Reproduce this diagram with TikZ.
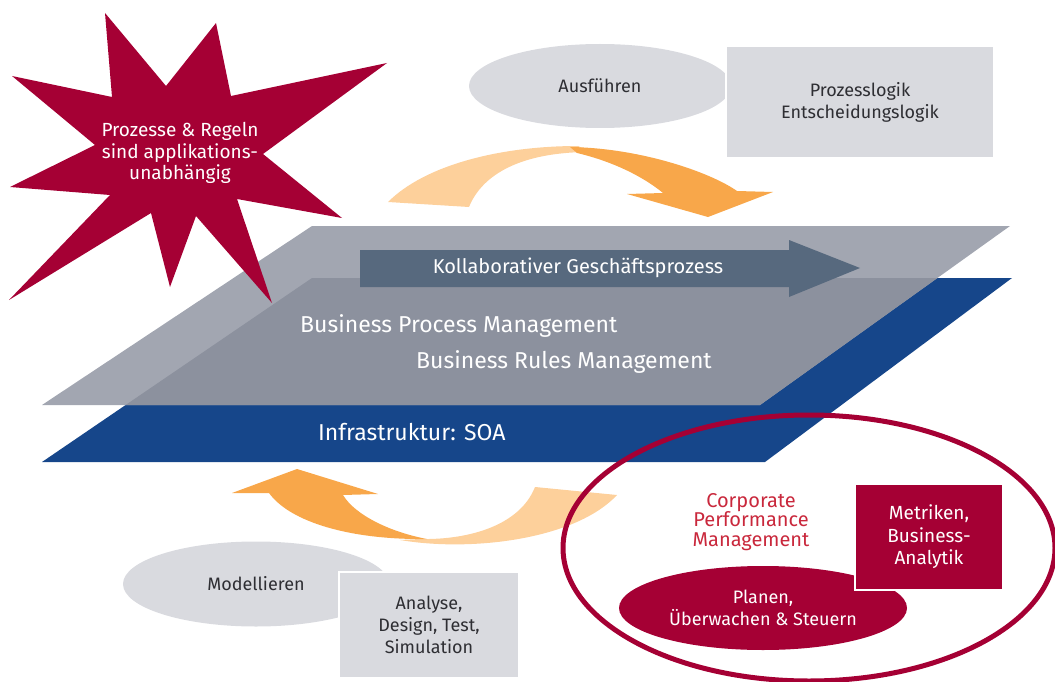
\documentclass[tikz,border=0pt]{standalone}
\usepackage{fontspec}
\setmainfont{Fira Sans}
\usetikzlibrary{shapes.geometric}

\definecolor{crimson}{HTML}{A50034}
\definecolor{cpmred}{HTML}{C9283C}
\definecolor{slate}{HTML}{57697E}
\definecolor{planegray}{HTML}{A2A6B1}
\definecolor{overlapgray}{HTML}{8C919E}
\definecolor{soablue}{HTML}{16468A}
\definecolor{boxgray}{HTML}{D9DADF}
\definecolor{textgray}{HTML}{2E2E33}
\definecolor{lightorange}{HTML}{FDD09B}
\definecolor{darkorange}{HTML}{F8A74A}

\begin{document}
\begin{tikzpicture}[x=1pt,y=-1pt,
    every node/.style={align=center,font=\fontsize{18}{22}\selectfont},
    oval node/.style={ellipse,fill=boxgray,text=textgray,inner sep=0pt},
    box node/.style={rectangle,fill=boxgray,draw=white,line width=1.5pt,text=textgray},
    red node/.style={fill=crimson,text=white},
    plane text/.style={anchor=west,inner sep=0pt,text=white,font=\fontsize{23}{27}\selectfont}]

  \useasboundingbox (0,0) rectangle (1055,682);

  % the two layers
  \fill[soablue] (312,278) -- (1012,278) -- (765,462) -- (42,462) -- cycle;
  \fill[planegray] (312,226) -- (1010,226) -- (760,405) -- (42,405) -- cycle;
  \begin{scope}
    \clip (312,278) -- (1012,278) -- (765,462) -- (42,462) -- cycle;
    \fill[overlapgray] (312,226) -- (1010,226) -- (760,405) -- (42,405) -- cycle;
  \end{scope}

  \fill[slate] (360,250) -- (789,250) -- (789,240) -- (860,268) -- (789,297)
    -- (789,287) -- (360,287) -- cycle;
  \node[text=white,inner sep=0pt,font=\fontsize{20}{24}\selectfont] (collab) at (578,268) {Kollaborativer Geschäftsprozess};

  \node[plane text] (bpm) at (300,326) {Business Process Management};
  \node[plane text] (brm) at (416,362) {Business Rules Management};
  \node[plane text] (soa) at (318,432) {Infrastruktur: SOA};

  % upper cycle arrow
  \fill[lightorange] (388,202) .. controls (425,165) and (500,146) .. (578,146)
    -- (590,152) .. controls (520,152) and (482,175) .. (469,207) -- cycle;
  \fill[darkorange] (570,147) .. controls (640,148) and (710,172) .. (737,191)
    -- (773,192) -- (708,217) -- (627,194) -- (663,193)
    .. controls (645,178) and (615,162) .. (577,153) -- cycle;

  % lower cycle arrow
  \fill[lightorange] (400,540) .. controls (470,552) and (575,540) .. (617,495)
    -- (535,487) .. controls (520,525) and (470,540) .. (420,539) -- cycle;
  \fill[darkorange] (427,539) .. controls (350,540) and (290,522) .. (269,493)
    -- (232,493) -- (297,469) -- (378,494) -- (343,495)
    .. controls (355,515) and (390,532) .. (427,539) -- cycle;

  % execute
  \node[oval node,minimum width=262pt,minimum height=84pt] (exec) at (600,86) {Ausführen};
  \node[box node,minimum width=268pt,minimum height=111pt] (logic) at (860,102) {Prozesslogik\\Entscheidungslogik};

  % model
  \node[oval node,minimum width=266pt,minimum height=85pt] (model) at (256,584) {Modellieren};
  \node[box node,minimum width=180pt,minimum height=106pt] (design) at (429,625) {Analyse,\\Design, Test,\\Simulation};

  % star
  \fill[crimson] (12,76) -- (112,97) -- (105,13) -- (166,86) -- (216,23) -- (231,96)
    -- (387,63) -- (263,154) -- (342,218) -- (237,199) -- (272,303) -- (196,216)
    -- (170,287) -- (151,213) -- (9,300) -- (110,195) -- (10,187) -- (95,145) -- cycle;
  \node[text=white,font=\fontsize{19}{21.5}\selectfont] (rules) at (180,153) {Prozesse \& Regeln\\sind applikations-\\unabhängig};

  % corporate performance management
  \draw[crimson,line width=5pt] (809,548) ellipse [x radius=246, y radius=133];
  \node[text=cpmred,font=\fontsize{20}{19.5}\selectfont] (cpm) at (751,522) {Corporate\\Performance\\Management};
  \node[ellipse,red node,minimum width=288pt,minimum height=84pt,inner sep=0pt] (plan) at (763,608) {Planen,\\Überwachen \& Steuern};
  \node[red node,draw=white,line width=1.5pt,minimum width=148pt,minimum height=106pt,font=\fontsize{19}{22.5}\selectfont] (metrics) at (929,537) {Metriken,\\Business-\\Analytik};
\end{tikzpicture}
\end{document}
